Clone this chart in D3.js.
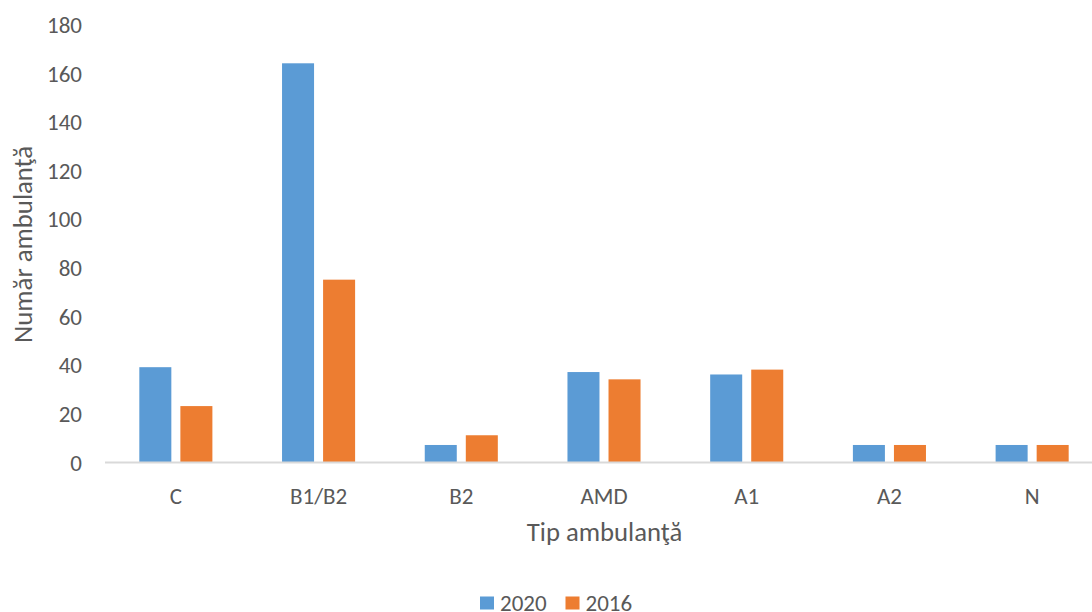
<!DOCTYPE html>
<html><head><meta charset="utf-8">
<script src="https://cdn.jsdelivr.net/npm/d3@7"></script>
<style>body{margin:0;background:#fff}svg{display:block}text{font-family:Carlito,Calibri,"Open Sans","Noto Sans",sans-serif;fill:#595959}</style>
</head><body><svg id="c" width="1092" height="612"></svg>
<script>
const categories = ["C","B1/B2","B2","AMD","A1","A2","N"];
const seriesNames = ["2020","2016"];
const values2020 = [39,164,7,37,36,7,7];
const values2016 = [23,75,11,34,38,7,7];
const yTicks = [0,20,40,60,80,100,120,140,160,180];
const colors = ["#5B9BD5","#ED7D31"];

const svg = d3.select("#c");
const y = d3.scaleLinear().domain([0,180]).range([462,24.4]);
const x0 = d3.scaleBand().domain(categories).range([104.5,1103.5]).padding(0);
const step = x0.step();
const x1 = d3.scaleBand().domain(seriesNames).range([step*0.244, step*0.756]).paddingInner(0.22).paddingOuter(0);
const color = d3.scaleOrdinal().domain(seriesNames).range(colors);
const data = categories.map((c,i)=>({cat:c, vals:[{s:"2020",v:values2020[i]},{s:"2016",v:values2016[i]}]}));

// y tick labels
const yAxis = d3.axisLeft(y).tickValues(yTicks).tickSize(0).tickPadding(0);
const gy = svg.append("g").attr("transform","translate(82,0)").call(yAxis);
gy.select(".domain").remove();
gy.selectAll("text").attr("font-size",23).style("fill","#595959").attr("font-family",null).attr("dy","0.35em");

// bars
const g = svg.append("g").selectAll("g").data(data).join("g")
  .attr("transform",d=>`translate(${x0(d.cat)},0)`);
g.selectAll("rect").data(d=>d.vals).join("rect")
  .attr("x",d=>x1(d.s)).attr("width",x1.bandwidth())
  .attr("y",d=>y(d.v)).attr("height",d=>y(0)-y(d.v))
  .attr("fill",d=>color(d.s));

// x axis
const xAxis = d3.axisBottom(x0).tickSize(0);
const gx = svg.append("g").attr("transform","translate(0,462)").call(xAxis);
gx.select(".domain").attr("stroke","#D9D9D9").attr("stroke-width",1.8);
gx.selectAll("text").attr("font-size",23).style("fill","#595959").attr("font-family",null).attr("y",34).attr("dy","0.35em");

// axis titles
svg.append("text").attr("x",604.5).attr("y",540.5).attr("text-anchor","middle").attr("font-size",26.7).text("Tip ambulanţă");
svg.append("text").attr("transform","translate(31.5,244.5) rotate(-90)").attr("text-anchor","middle").attr("font-size",26.7).text("Număr ambulanţă");

// legend
const lg = svg.append("g").attr("transform","translate(480,596.5)");
const items = lg.selectAll("g").data(seriesNames).join("g").attr("transform",(d,i)=>`translate(${i*85.5},0)`);
items.append("rect").attr("width",14).attr("height",13).attr("fill",d=>color(d));
items.append("text").attr("x",20).attr("y",14.5).attr("font-size",23).text(d=>d);
</script></body></html>
